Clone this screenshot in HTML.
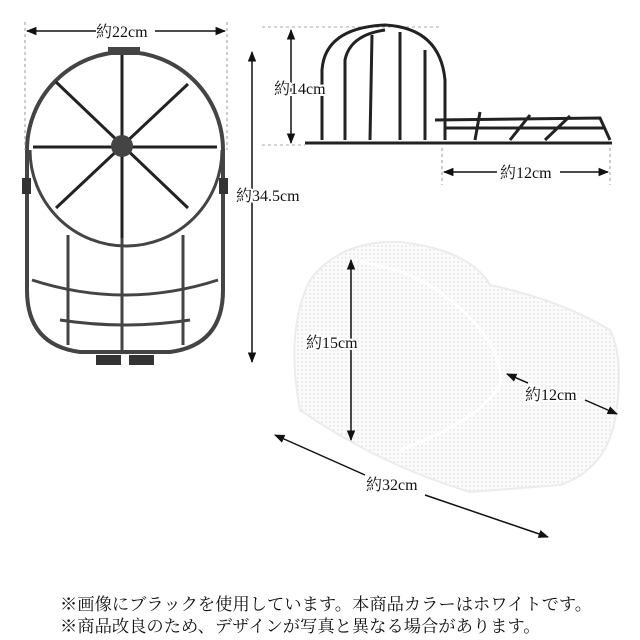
<!DOCTYPE html>
<html><head><meta charset="utf-8"><style>
body{margin:0;background:#fff;width:640px;height:640px;overflow:hidden}
svg{display:block}
text{font-family:"Liberation Serif","Noto Serif CJK SC","Noto Sans CJK JP",serif;fill:#111}
.l{paint-order:stroke;stroke:#fff;stroke-width:4px}
</style></head><body>
<svg width="640" height="640" viewBox="0 0 640 640">
<defs>
<marker id="a" viewBox="0 0 10 10" refX="9" refY="5" markerWidth="7" markerHeight="7" orient="auto-start-reverse"><path d="M0,1 L10,5 L0,9 z" fill="#111"/></marker>
<pattern id="m" width="4" height="4" patternUnits="userSpaceOnUse"><rect width="4" height="4" fill="#fbfbfb"/><circle cx="2" cy="2" r="0.9" fill="#e2e2e2"/></pattern>
</defs>
<g fill="none" stroke="#444" stroke-width="4">
<path d="M27,150 A98,98 0 0 1 223,150 L223,290 Q223,345 170,352 L80,352 Q27,345 27,290 Z"/>
<path d="M30,150 A96,96 0 0 0 222,150" stroke-width="3"/>
<path d="M122,52 L122,238 M56,82 L188,208 M188,84 L56,208 M33,147 L217,147" stroke="#222" stroke-width="3"/>
<path d="M32,280 Q125,310 218,280" stroke-width="3"/>
<path d="M60,320 Q125,330 190,320" stroke-width="3"/>
<path d="M68,235 L68,345 M122,238 L122,352 M183,235 L183,345" stroke-width="3"/>
</g>
<circle cx="122" cy="146" r="11" fill="#444"/>
<rect x="22" y="178" width="9" height="16" fill="#333"/><rect x="219" y="178" width="9" height="16" fill="#333"/>
<rect x="96" y="355" width="25" height="10" fill="#333"/><rect x="129" y="355" width="25" height="10" fill="#333"/>
<rect x="108" y="47" width="32" height="8" fill="#444"/>
<line x1="25" y1="22" x2="25" y2="150" stroke="#999" stroke-dasharray="3,3"/>
<line x1="227" y1="22" x2="227" y2="150" stroke="#999" stroke-dasharray="3,3"/>
<line x1="27" y1="31" x2="96" y2="31" stroke="#111" stroke-width="1.5" marker-start="url(#a)"/>
<line x1="155" y1="31" x2="225" y2="31" stroke="#111" stroke-width="1.5" marker-end="url(#a)"/>
<text x="96" y="37" font-size="16">約22cm</text>
<line x1="252" y1="52" x2="252" y2="362" stroke="#111" stroke-width="1.5" marker-start="url(#a)" marker-end="url(#a)"/>
<text class="l" x="236" y="201" font-size="16">約34.5cm</text>
<line x1="262" y1="27" x2="440" y2="27" stroke="#aaa" stroke-dasharray="3,3"/>
<line x1="262" y1="145" x2="305" y2="145" stroke="#aaa" stroke-dasharray="3,3"/>
<line x1="291" y1="30" x2="291" y2="143" stroke="#111" stroke-width="1.5" marker-start="url(#a)" marker-end="url(#a)"/>
<g fill="none" stroke="#222" stroke-width="3">
<path d="M305,143 L612,143"/>
<path d="M322,140 L322,70 Q325,28 385,25 Q440,28 445,80 L445,140"/>
<path d="M345,140 L345,60 Q350,35 385,30 M370,140 L372,35 M400,140 L400,32 M425,140 L425,50"/>
<path d="M435,120 L600,118 L610,140 M445,128 L605,128"/>
<path d="M480,112 L475,140 M530,115 L510,140 M570,116 L545,140"/>
</g>
<text class="l" x="274" y="94" font-size="16">約14cm</text>
<line x1="442" y1="148" x2="442" y2="185" stroke="#999" stroke-dasharray="3,3"/>
<line x1="610" y1="148" x2="610" y2="185" stroke="#999" stroke-dasharray="3,3"/>
<line x1="444" y1="172" x2="497" y2="172" stroke="#111" stroke-width="1.5" marker-start="url(#a)"/>
<line x1="560" y1="172" x2="608" y2="172" stroke="#111" stroke-width="1.5" marker-end="url(#a)"/>
<text x="500" y="178" font-size="16">約12cm</text>
<path d="M300,410 Q285,330 310,280 Q340,240 400,242 Q470,250 490,285 Q560,300 610,330 Q625,360 615,420 Q605,470 560,485 L470,492 Q380,465 300,410 Z" fill="url(#m)" stroke="#ececec" stroke-width="2"/>
<path d="M360,262 Q415,270 450,300 Q505,345 500,385 Q480,420 400,450" fill="none" stroke="#fff" stroke-width="3"/>
<line x1="351" y1="260" x2="351" y2="440" stroke="#111" stroke-width="1.5" marker-start="url(#a)" marker-end="url(#a)"/>
<text class="l" x="306" y="348" font-size="16">約15cm</text>
<line x1="507" y1="374" x2="528" y2="383" stroke="#111" stroke-width="1.5" marker-start="url(#a)"/>
<line x1="585" y1="400" x2="617" y2="414" stroke="#111" stroke-width="1.5" marker-end="url(#a)"/>
<text class="l" x="525" y="400" font-size="16">約12cm</text>
<line x1="275" y1="435" x2="365" y2="475" stroke="#111" stroke-width="1.5" marker-start="url(#a)"/>
<line x1="425" y1="495" x2="548" y2="537" stroke="#111" stroke-width="1.5" marker-end="url(#a)"/>
<text class="l" x="366" y="490" font-size="16">約32cm</text>
<text x="60" y="610" font-size="17.3">※画像にブラックを使用しています。本商品カラーはホワイトです。</text>
<text x="60" y="632" font-size="17.3">※商品改良のため、デザインが写真と異なる場合があります。</text>
</svg>
</body></html>
